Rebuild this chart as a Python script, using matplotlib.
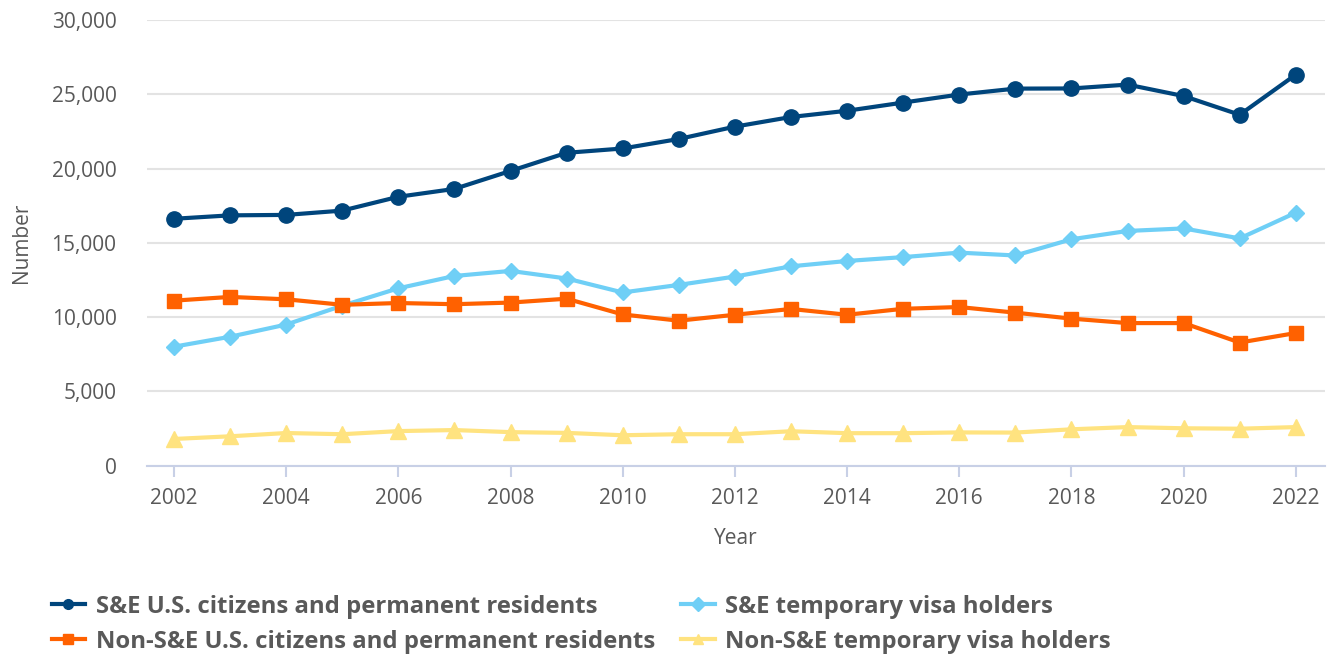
import matplotlib.pyplot as plt
from matplotlib.ticker import FuncFormatter, MultipleLocator

# data
years = list(range(2002, 2023))
se_us = [16620, 16850, 16880, 17170, 18100, 18630, 19840, 21060, 21350, 21990, 22820,
         23470, 23890, 24440, 24980, 25380, 25390, 25650, 24880, 23620, 26320]
se_temp = [8010, 8680, 9500, 10770, 11940, 12770, 13110, 12600, 11660, 12170, 12730,
           13420, 13780, 14040, 14340, 14150, 15240, 15800, 15970, 15300, 17030]
nse_us = [11110, 11360, 11200, 10830, 10950, 10870, 10980, 11240, 10180, 9760, 10160,
          10550, 10160, 10560, 10680, 10300, 9900, 9600, 9600, 8290, 8930]
nse_temp = [1800, 1980, 2200, 2120, 2330, 2400, 2260, 2210, 2050, 2120, 2120,
            2320, 2190, 2190, 2240, 2230, 2450, 2600, 2520, 2490, 2600]

series_names = ['S&E U.S. citizens and permanent residents',
                'S&E temporary visa holders',
                'Non-S&E U.S. citizens and permanent residents',
                'Non-S&E temporary visa holders']

plt.rcParams['font.family'] = ['Open Sans', 'DejaVu Sans']
txt_color = '#595959'

fig = plt.figure(figsize=(13.37, 6.59), dpi=100)
ax = fig.add_axes([0.110, 0.2933, 0.881, 0.6764])

# colour, marker, marker size for each series
styles = [
    (se_us, '#00457c', 'o', 11),
    (se_temp, '#6fcff6', 'D', 8.5),
    (nse_us, '#ff6100', 's', 10),
    (nse_temp, '#ffe380', '^', 11),
]
handles = []
for (vals, col, mk, ms), name in zip(styles, series_names):
    h, = ax.plot(years, vals, color=col, marker=mk, markersize=ms, linewidth=3,
                 label=name, zorder=3)
    handles.append(h)

ax.set_xlim(2001.52, 2022.52)
ax.set_ylim(0, 30000)
ax.yaxis.set_major_locator(MultipleLocator(5000))
ax.yaxis.set_major_formatter(FuncFormatter(lambda v, p: f'{int(v):,}'))
ax.set_xticks(range(2002, 2023, 2))

ax.grid(axis='y', color='#e3e3e3', linewidth=1.5)
ax.set_axisbelow(True)
for s in ['top', 'right', 'left']:
    ax.spines[s].set_visible(False)
ax.spines['bottom'].set_color('#c8d0e6')
ax.spines['bottom'].set_linewidth(1.5)
ax.spines['bottom'].set_zorder(2)

ax.tick_params(axis='y', length=0, pad=22, labelsize=15, labelcolor=txt_color)
ax.tick_params(axis='x', length=8, width=1.5, color='#c8d0e6', pad=8,
               labelsize=15, labelcolor=txt_color)

ax.set_ylabel('Number', fontsize=15, color=txt_color, labelpad=14)
ax.set_xlabel('Year', fontsize=15, color=txt_color, labelpad=14)

# legend: two rows, two columns, row-wise order
order = [0, 2, 1, 3]
leg = fig.legend([handles[i] for i in order], [series_names[i] for i in order],
                 loc='upper left', bbox_to_anchor=(0.0225, 0.13), ncol=2,
                 frameon=False, handlelength=1.4, handletextpad=0.45,
                 columnspacing=1.1, labelspacing=0.45,
                 prop={'family': 'Open Sans', 'weight': 'bold', 'size': 17.2})
for t in leg.get_texts():
    t.set_color(txt_color)
for lh in leg.legend_handles:
    lh.set_markersize(7)

fig.savefig('out.png', dpi=100)
